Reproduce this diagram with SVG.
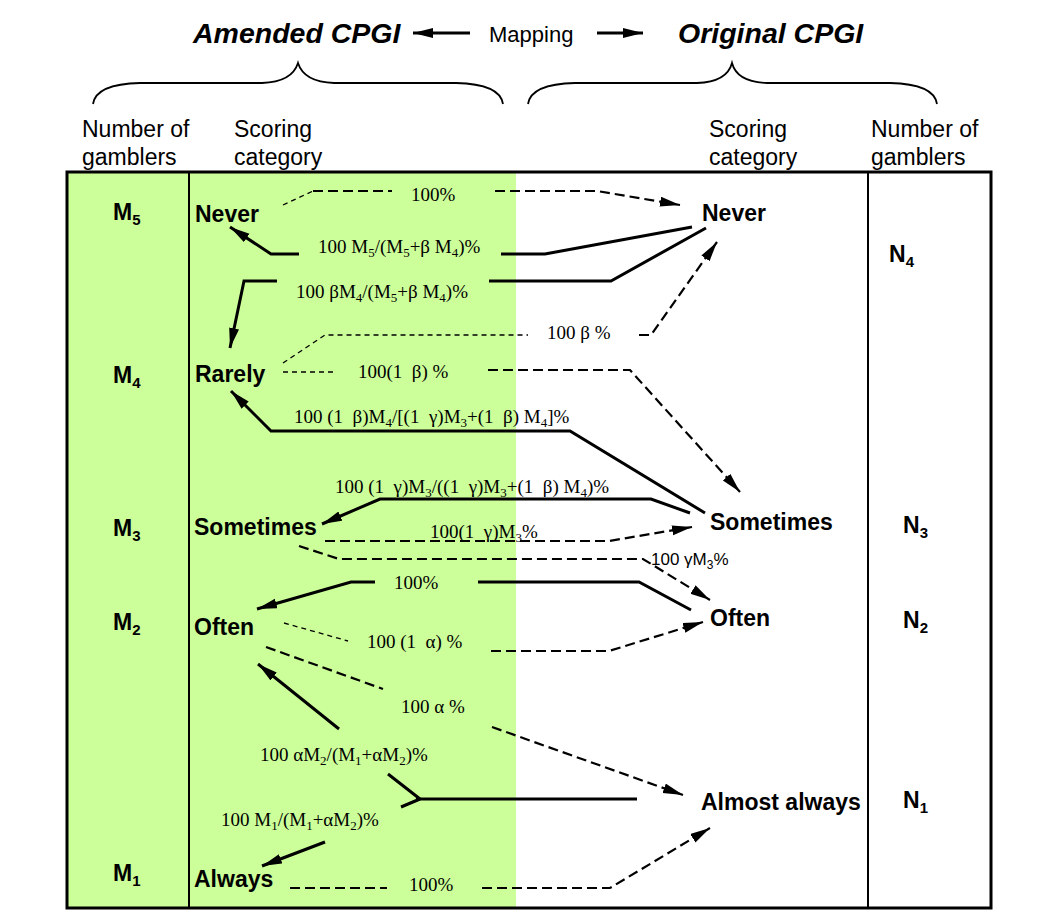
<svg xmlns="http://www.w3.org/2000/svg" width="1046" height="919" viewBox="0 0 1046 919">
<defs>
<style>
.sans{font-family:"Liberation Sans",Arial,sans-serif;fill:#000}
.title{font-size:28.5px;font-weight:bold;font-style:italic}
.hd{font-size:23px}
.cat{font-size:23px;font-weight:bold}
.lab{font-family:"Liberation Serif","Times New Roman",serif;font-size:19px;fill:#000}
.s{font-size:13px}
.ms{font-size:15px}
.solid{fill:none;stroke:#000;stroke-width:3}
.dash{fill:none;stroke:#000;stroke-width:2.2;stroke-dasharray:10 5}
.thin{fill:none;stroke:#000;stroke-width:1.3;stroke-dasharray:5 4}
.brace{fill:none;stroke:#000;stroke-width:1.8}
</style>
<marker id="ah" markerUnits="userSpaceOnUse" markerWidth="22" markerHeight="12" refX="20" refY="5" orient="auto"><path d="M0,0 L20,5 L0,10 Z" fill="#000"/></marker>
</defs>
<rect x="0" y="0" width="1046" height="919" fill="#fff"/>

<g id="header">
<text class="sans title" x="193" y="43">Amended CPGI</text>
<text class="sans" x="489" y="42" font-size="22">Mapping</text>
<text class="sans title" x="678" y="43">Original CPGI</text>
<path class="brace" d="M93,104 Q96,84 140,83 L262,83 Q292,82 298,63 Q304,82 334,83 L456,83 Q500,84 503,104"/>
<path class="brace" d="M528,104 Q531,84 575,83 L697,83 Q727,82 732,63 Q737,82 767,83 L890,83 Q934,84 937,104"/>
<text class="sans hd" x="82" y="137">Number of</text>
<text class="sans hd" x="82" y="165">gamblers</text>
<text class="sans hd" x="234" y="137">Scoring</text>
<text class="sans hd" x="234" y="165">category</text>
<text class="sans hd" x="709" y="137">Scoring</text>
<text class="sans hd" x="709" y="165">category</text>
<text class="sans hd" x="871" y="137">Number of</text>
<text class="sans hd" x="871" y="165">gamblers</text>
</g>

<g id="table">
<rect x="67" y="172" width="449" height="736" fill="#ccff99"/>
<rect x="67" y="172" width="924" height="736" fill="none" stroke="#000" stroke-width="3"/>
<line x1="189" y1="172" x2="189" y2="908" stroke="#000" stroke-width="2"/>
<line x1="868" y1="172" x2="868" y2="908" stroke="#000" stroke-width="2"/>
</g>

<g id="amended-counts">
<text class="sans cat" x="113" y="220">M<tspan class="ms" dy="5">5</tspan></text>
<text class="sans cat" x="113" y="383">M<tspan class="ms" dy="5">4</tspan></text>
<text class="sans cat" x="113" y="536">M<tspan class="ms" dy="5">3</tspan></text>
<text class="sans cat" x="113" y="630">M<tspan class="ms" dy="5">2</tspan></text>
<text class="sans cat" x="113" y="881">M<tspan class="ms" dy="5">1</tspan></text>
</g>

<g id="amended-categories">
<text class="sans cat" x="195" y="222">Never</text>
<text class="sans cat" x="195" y="382">Rarely</text>
<text class="sans cat" x="194" y="535">Sometimes</text>
<text class="sans cat" x="194" y="635">Often</text>
<text class="sans cat" x="194" y="887">Always</text>
</g>

<g id="original-categories">
<text class="sans cat" x="702" y="221">Never</text>
<text class="sans cat" x="710" y="530">Sometimes</text>
<text class="sans cat" x="710" y="626">Often</text>
<text class="sans cat" x="701" y="810">Almost always</text>
</g>

<g id="original-counts">
<text class="sans cat" x="889" y="262">N<tspan class="ms" dy="5">4</tspan></text>
<text class="sans cat" x="903" y="533">N<tspan class="ms" dy="5">3</tspan></text>
<text class="sans cat" x="903" y="628">N<tspan class="ms" dy="5">2</tspan></text>
<text class="sans cat" x="903" y="808">N<tspan class="ms" dy="5">1</tspan></text>
</g>

<g id="connectors">
<path class="solid" stroke-width="2" d="M470,33 L413,33" marker-end="url(#ah)"/>
<path class="solid" stroke-width="2" d="M597,33 L643,33" marker-end="url(#ah)"/>
<path class="thin" d="M283,205 L313,191"/>
<path class="dash" d="M313,191 L392,191"/>
<path class="dash" d="M495,191 L597,191 L680,205" marker-end="url(#ah)"/>
<path class="solid" d="M692,227 L545,254 L501,254"/>
<path class="solid" d="M299,254 L271,254 L230,227" marker-end="url(#ah)"/>
<path class="solid" d="M706,228 L611,281 L489,281"/>
<path class="solid" d="M277,281 L244,281 L230,348" marker-end="url(#ah)"/>
<path class="thin" d="M283,363 L325,335 L528,335"/>
<path class="dash" d="M639,335 L651,335 L717,242" marker-end="url(#ah)"/>
<path class="thin" d="M283,372 L337,372"/>
<path class="dash" d="M488,370 L630,370 L740,492" marker-end="url(#ah)"/>
<path class="solid" d="M705,513 L570,431 L271,431 L231,391" marker-end="url(#ah)"/>
<path class="solid" d="M690,513 L651,499 L380,499 L322,524" marker-end="url(#ah)"/>
<path class="dash" d="M325,541 L609,541 L692,527" marker-end="url(#ah)"/>
<path class="dash" d="M299,546 L339,559 L643,559 L710,600" marker-end="url(#ah)"/>
<path class="solid" d="M691,610 L639,582 L478,582"/>
<path class="solid" d="M375,582 L351,582 L257,609" marker-end="url(#ah)"/>
<path class="thin" d="M284,623 L348,641"/>
<path class="dash" d="M491,651 L609,651 L703,622" marker-end="url(#ah)"/>
<path class="dash" d="M266,647 L383,689"/>
<path class="dash" d="M492,727 L683,795" marker-end="url(#ah)"/>
<path class="solid" stroke-width="5" d="M637,799 L416,799"/>
<path class="solid" stroke-width="3.5" d="M420,799 L388,774 M420,799 L401,807"/>
<path class="solid" d="M339,729 L258,664" marker-end="url(#ah)"/>
<path class="solid" d="M325,842 L262,866" marker-end="url(#ah)"/>
<path class="dash" d="M290,888 L387,888"/>
<path class="dash" d="M482,888 L610,888 L710,828" marker-end="url(#ah)"/>
</g>

<g id="labels">
<text class="lab" x="411" y="201">100%</text>
<text class="lab" x="318" y="253" xml:space="preserve">100 M<tspan class="s" dy="4">5</tspan><tspan dy="-4">/(M</tspan><tspan class="s" dy="4">5</tspan><tspan dy="-4">+β M</tspan><tspan class="s" dy="4">4</tspan><tspan dy="-4">)%</tspan></text>
<text class="lab" x="296" y="298" xml:space="preserve">100 βM<tspan class="s" dy="4">4</tspan><tspan dy="-4">/(M</tspan><tspan class="s" dy="4">5</tspan><tspan dy="-4">+β M</tspan><tspan class="s" dy="4">4</tspan><tspan dy="-4">)%</tspan></text>
<text class="lab" x="547" y="339" xml:space="preserve">100 β %</text>
<text class="lab" x="358" y="378" xml:space="preserve">100(1  β) %</text>
<text class="lab" x="294" y="423" xml:space="preserve">100 (1  β)M<tspan class="s" dy="4">4</tspan><tspan dy="-4">/[(1  γ)M</tspan><tspan class="s" dy="4">3</tspan><tspan dy="-4">+(1  β) M</tspan><tspan class="s" dy="4">4</tspan><tspan dy="-4">]%</tspan></text>
<text class="lab" x="335" y="493" xml:space="preserve">100 (1  γ)M<tspan class="s" dy="4">3</tspan><tspan dy="-4">/((1  γ)M</tspan><tspan class="s" dy="4">3</tspan><tspan dy="-4">+(1  β) M</tspan><tspan class="s" dy="4">4</tspan><tspan dy="-4">)%</tspan></text>
<text class="lab" x="430" y="538" xml:space="preserve">100(1  γ)M<tspan class="s" dy="4">3</tspan><tspan dy="-4">%</tspan></text>
<text class="sans" x="651" y="565" font-size="17" xml:space="preserve">100 γM<tspan font-size="12" dy="4">3</tspan><tspan dy="-4">%</tspan></text>
<text class="lab" x="394" y="589">100%</text>
<text class="lab" x="367" y="648" xml:space="preserve">100 (1  α) %</text>
<text class="lab" x="401" y="713" xml:space="preserve">100 α %</text>
<text class="lab" x="260" y="761" xml:space="preserve">100 αM<tspan class="s" dy="4">2</tspan><tspan dy="-4">/(M</tspan><tspan class="s" dy="4">1</tspan><tspan dy="-4">+αM</tspan><tspan class="s" dy="4">2</tspan><tspan dy="-4">)%</tspan></text>
<text class="lab" x="221" y="826" xml:space="preserve">100 M<tspan class="s" dy="4">1</tspan><tspan dy="-4">/(M</tspan><tspan class="s" dy="4">1</tspan><tspan dy="-4">+αM</tspan><tspan class="s" dy="4">2</tspan><tspan dy="-4">)%</tspan></text>
<text class="lab" x="409" y="891">100%</text>
</g>
</svg>
